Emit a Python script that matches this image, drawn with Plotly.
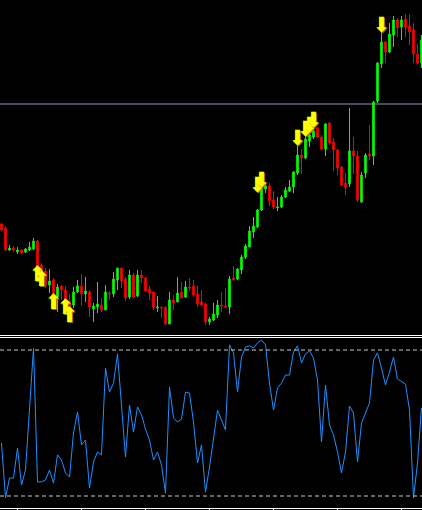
import plotly.graph_objects as go

# ---- price data (one bar per index) ----
bar_index = list(range(106))
open_ = [1.2776,1.2772,1.2750,1.2752,1.2748,1.2750,1.2748,1.2750,1.2751,1.2759,
         1.2735,1.2729,1.2715,1.2720,1.2703,1.2714,1.2710,1.2699,1.2695,1.2708,
         1.2714,1.2706,1.2708,1.2691,1.2693,1.2695,1.2690,1.2707,1.2706,1.2720,
         1.2732,1.2721,1.2703,1.2725,1.2704,1.2725,1.2722,1.2711,1.2708,1.2692,
         1.2693,1.2693,1.2676,1.2700,1.2698,1.2708,1.2703,1.2713,1.2714,1.2706,
         1.2698,1.2696,1.2678,1.2680,1.2685,1.2695,1.2694,1.2693,1.2722,1.2721,
         1.2730,1.2743,1.2753,1.2768,1.2773,1.2790,1.2811,1.2814,1.2800,1.2792,
         1.2793,1.2803,1.2809,1.2813,1.2827,1.2845,1.2842,1.2859,1.2863,1.2872,
         1.2863,1.2851,1.2877,1.2858,1.2850,1.2833,1.2817,1.2816,1.2849,1.2844,
         1.2798,1.2827,1.2846,1.2844,1.2899,1.2936,1.2958,1.2948,1.2965,1.2980,
         1.2973,1.2981,1.2974,1.2970,1.2946,1.2937]
high = [1.2777,1.2774,1.2755,1.2754,1.2753,1.2751,1.2752,1.2758,1.2762,1.2760,
        1.2737,1.2732,1.2731,1.2722,1.2716,1.2715,1.2714,1.2706,1.2713,1.2720,
        1.2726,1.2723,1.2710,1.2697,1.2718,1.2702,1.2715,1.2709,1.2728,1.2732,
        1.2732,1.2723,1.2730,1.2727,1.2730,1.2730,1.2723,1.2714,1.2708,1.2704,
        1.2693,1.2693,1.2708,1.2705,1.2723,1.2718,1.2719,1.2722,1.2720,1.2714,
        1.2710,1.2697,1.2683,1.2697,1.2700,1.2708,1.2712,1.2724,1.2734,1.2732,
        1.2745,1.2756,1.2774,1.2783,1.2791,1.2823,1.2817,1.2817,1.2809,1.2803,
        1.2805,1.2813,1.2820,1.2829,1.2855,1.2851,1.2864,1.2868,1.2872,1.2873,
        1.2865,1.2877,1.2878,1.2862,1.2851,1.2834,1.2827,1.2892,1.2863,1.2849,
        1.2828,1.2847,1.2875,1.2899,1.2938,1.2968,1.2959,1.2977,1.2984,1.2982,
        1.2984,1.2986,1.2986,1.2977,1.2956,1.2965]
low = [1.2769,1.2749,1.2749,1.2748,1.2746,1.2746,1.2747,1.2749,1.2750,1.2732,
       1.2717,1.2712,1.2707,1.2700,1.2688,1.2700,1.2690,1.2690,1.2692,1.2707,
       1.2694,1.2698,1.2683,1.2678,1.2687,1.2688,1.2690,1.2700,1.2703,1.2710,
       1.2712,1.2699,1.2701,1.2702,1.2703,1.2717,1.2708,1.2700,1.2690,1.2688,
       1.2682,1.2675,1.2676,1.2690,1.2698,1.2702,1.2702,1.2709,1.2703,1.2693,
       1.2694,1.2675,1.2675,1.2679,1.2682,1.2688,1.2693,1.2686,1.2719,1.2720,
       1.2726,1.2741,1.2753,1.2762,1.2772,1.2789,1.2807,1.2794,1.2791,1.2789,
       1.2792,1.2802,1.2808,1.2807,1.2825,1.2826,1.2841,1.2853,1.2861,1.2862,
       1.2850,1.2844,1.2855,1.2829,1.2825,1.2814,1.2805,1.2813,1.2826,1.2798,
       1.2797,1.2822,1.2840,1.2835,1.2897,1.2932,1.2937,1.2947,1.2953,1.2963,
       1.2960,1.2963,1.2955,1.2937,1.2936,1.2932]
close = [1.2770,1.2750,1.2752,1.2750,1.2750,1.2747,1.2751,1.2753,1.2759,1.2733,
         1.2723,1.2714,1.2719,1.2705,1.2713,1.2710,1.2697,1.2693,1.2708,1.2714,
         1.2706,1.2709,1.2693,1.2694,1.2696,1.2690,1.2708,1.2706,1.2721,1.2732,
         1.2719,1.2702,1.2725,1.2703,1.2725,1.2722,1.2709,1.2707,1.2693,1.2693,
         1.2692,1.2676,1.2700,1.2697,1.2707,1.2702,1.2713,1.2712,1.2705,1.2696,
         1.2695,1.2678,1.2681,1.2686,1.2695,1.2694,1.2693,1.2721,1.2720,1.2731,
         1.2743,1.2754,1.2769,1.2774,1.2790,1.2812,1.2814,1.2799,1.2793,1.2793,
         1.2803,1.2810,1.2813,1.2828,1.2845,1.2842,1.2861,1.2865,1.2869,1.2863,
         1.2851,1.2876,1.2857,1.2850,1.2832,1.2815,1.2813,1.2849,1.2844,1.2800,
         1.2825,1.2845,1.2844,1.2898,1.2937,1.2958,1.2948,1.2966,1.2980,1.2972,
         1.2980,1.2973,1.2968,1.2946,1.2937,1.2960]

# ---- signal arrows (bar index, price of arrow centre) ----
buy_index = [9, 10, 13, 16, 17]
buy_price = [1.2724, 1.2719, 1.2696, 1.2691, 1.2683]
sell_index = [64, 65, 74, 76, 77, 78, 95]
sell_price = [1.2813, 1.2818, 1.2860, 1.2869, 1.2873, 1.2878, 1.2973]

# ---- horizontal level line in price pane ----
level_price = 1.2896

# ---- oscillator ----
osc = [41.8,19.2,27.4,27.4,39.7,24.5,30.7,56.6,80.8,25.8,
       25.8,26.6,30.7,25.3,36.9,34.8,29.5,27.8,45.9,54.5,
       41.0,43.0,23.3,34.0,38.1,36.9,72.6,62.7,66.4,78.4,
       55.3,36.0,57.4,46.3,56.6,53.3,47.5,43.0,34.8,38.1,
       32.7,21.2,64.8,52.1,50.4,51.6,62.7,62.3,50.4,33.6,
       41.0,21.6,31.9,44.2,55.3,51.2,47.1,82.1,78.8,62.7,
       77.1,81.2,81.7,80.8,82.9,84.1,82.1,66.4,55.3,64.4,
       66.4,69.7,69.7,79.2,81.7,74.7,78.4,79.6,76.7,67.7,
       42.2,65.6,49.2,45.1,38.1,29.5,38.1,57.0,54.1,34.0,
       50.0,54.1,58.2,75.9,78.8,72.6,65.6,71.0,77.1,68.1,
       66.9,66.0,55.3,19.2,33.6,56.2]
osc_levels = [80, 20]
x_ticks = [4, 20, 36, 52, 68, 84, 100]

W, H = 422, 510
fig = go.Figure()

fig.add_trace(go.Candlestick(
    x=bar_index, open=open_, high=high, low=low, close=close,
    increasing=dict(line=dict(color="#00ff00", width=1), fillcolor="#00ff00"),
    decreasing=dict(line=dict(color="#ff0000", width=1), fillcolor="#ff0000"),
    whiskerwidth=0, xaxis="x", yaxis="y", showlegend=False, hoverinfo="skip"))

arrow_font = dict(color="#ffff00", size=21, family="DejaVu Sans",
                  shadow="1px 1px 0px #8a7400")
fig.add_trace(go.Scatter(
    x=buy_index, y=buy_price, mode="text", text=["⬆"] * len(buy_index),
    textposition="middle center", textfont=arrow_font,
    xaxis="x", yaxis="y", showlegend=False, hoverinfo="skip"))
fig.add_trace(go.Scatter(
    x=sell_index, y=sell_price, mode="text", text=["⬇"] * len(sell_index),
    textposition="middle center", textfont=arrow_font,
    xaxis="x", yaxis="y", showlegend=False, hoverinfo="skip"))

fig.add_trace(go.Scatter(
    x=bar_index, y=osc, mode="lines", line=dict(color="#1e90ff", width=1),
    xaxis="x", yaxis="y2", showlegend=False, hoverinfo="skip"))

top_dom = [(H - 335) / H, 1.0]
bot_dom = [(H - 508) / H, (H - 338) / H]

fig.update_layout(
    width=W, height=H, margin=dict(l=0, r=0, t=0, b=0),
    paper_bgcolor="#000000", plot_bgcolor="#000000",
    boxgap=0.45,
    xaxis=dict(range=[-0.375, 105.125], anchor="y2", showgrid=False, zeroline=False,
               showline=True, linecolor="#ffffff", linewidth=1,
               ticks="outside", ticklen=3, tickcolor="#ffffff",
               tickvals=x_ticks, showticklabels=False,
               rangeslider=dict(visible=False)),
    yaxis=dict(domain=top_dom, range=[1.2665, 1.3000], showgrid=False, zeroline=False,
               showticklabels=False, fixedrange=True),
    yaxis2=dict(domain=bot_dom, range=[15.07, 84.93], showgrid=False, zeroline=False,
                showticklabels=False),
)

fig.add_hline(y=level_price, line=dict(color="#8a9bb0", width=1), yref="y")
for lv in osc_levels:
    fig.add_hline(y=lv, line=dict(color="#c8c8c8", width=1, dash="4px,3px"), yref="y2")

for py in (335.5, 337.5):
    fig.add_shape(type="line", xref="paper", yref="paper", x0=0, x1=1,
                  y0=(H - py) / H, y1=(H - py) / H,
                  line=dict(color="#ffffff", width=1))

fig.write_html("out.html",
               config={"displayModeBar": False},
               post_script="document.body.style.margin='0px';document.body.style.background='#000';")
